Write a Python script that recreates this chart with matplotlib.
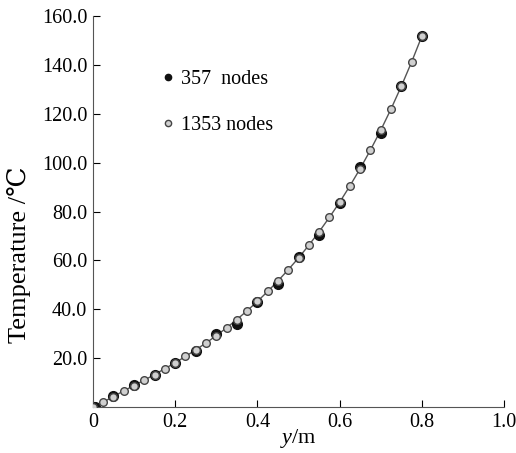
import matplotlib
matplotlib.use("Agg")
import matplotlib.pyplot as plt

plt.rcParams['font.family'] = ['Liberation Serif', 'DejaVu Serif']
plt.rcParams['mathtext.fontset'] = 'custom'
plt.rcParams['mathtext.it'] = 'Liberation Serif:italic'
plt.rcParams['mathtext.rm'] = 'Liberation Serif'

# 357 nodes (coarse mesh)
y_coarse = [0.005, 0.05, 0.10, 0.15, 0.20, 0.25, 0.30, 0.35, 0.40, 0.45,
            0.50, 0.55, 0.60, 0.65, 0.70, 0.75, 0.80]
t_coarse = [0.0, 4.4, 8.9, 13.2, 18.0, 22.9, 30.0, 34.1, 43.0, 50.2,
            61.2, 70.2, 83.7, 98.3, 112.2, 131.5, 151.8]

# 1353 nodes (fine mesh)
y_fine = [0.0, 0.025, 0.05, 0.075, 0.10, 0.125, 0.15, 0.175, 0.20, 0.225,
          0.25, 0.275, 0.30, 0.325, 0.35, 0.375, 0.40, 0.425, 0.45, 0.475,
          0.50, 0.525, 0.55, 0.575, 0.60, 0.625, 0.65, 0.675, 0.70, 0.725,
          0.75, 0.775, 0.80]
t_fine = [0.0, 2.0, 4.3, 6.6, 8.8, 11.0, 13.3, 15.7, 18.1, 20.7,
          23.4, 26.2, 29.2, 32.4, 35.8, 39.4, 43.2, 47.3, 51.6, 56.2,
          61.0, 66.2, 71.7, 77.6, 83.8, 90.5, 97.6, 105.2, 113.3, 122.0,
          131.3, 141.2, 151.8]

x_ticks = [0, 0.2, 0.4, 0.6, 0.8, 1.0]
x_labels = ['0', '0.2', '0.4', '0.6', '0.8', '1.0']
y_ticks = [20, 40, 60, 80, 100, 120, 140, 160]

fig = plt.figure(figsize=(5.16, 4.53), dpi=100)
ax = fig.add_axes([0.180, 0.1015, 0.797, 0.863])

ax.plot(y_fine, t_fine, '-', color='#555555', lw=1.0, zorder=1)
ax.plot(y_coarse, t_coarse, 'o', color='#111111', ms=7, zorder=2,
        label='357  nodes')
ax.plot(y_fine, t_fine, 'o', mfc='#d0d0d0', mec='#444444', mew=1.0, ms=5.5,
        zorder=3, label='1353 nodes')

ax.set_xlim(0, 1.0)
ax.set_ylim(0, 160)
ax.set_xticks(x_ticks)
ax.set_xticklabels(x_labels)
ax.set_yticks(y_ticks)
ax.set_yticklabels([f'{v:.1f}' for v in y_ticks])
ax.tick_params(direction='in', labelsize=14.5, length=5, width=0.8, pad=4)
ax.spines['top'].set_visible(False)
ax.spines['right'].set_visible(False)
for s in ('left', 'bottom'):
    ax.spines[s].set_color('#555555')

ax.set_xlabel(r'$y$/m', fontsize=16, labelpad=-3)
ax.set_ylabel('Temperature /℃', fontsize=19)
ax.yaxis.set_label_coords(-0.15, 0.39)

leg = ax.legend(loc='upper left', bbox_to_anchor=(0.167, 0.862), frameon=False,
                fontsize=14.5, handlelength=0.6, handletextpad=0.35,
                labelspacing=1.35, numpoints=1, borderpad=0, borderaxespad=0)
for h in leg.legend_handles:
    h.set_markersize(4.5)

fig.savefig('out.png', dpi=100)
